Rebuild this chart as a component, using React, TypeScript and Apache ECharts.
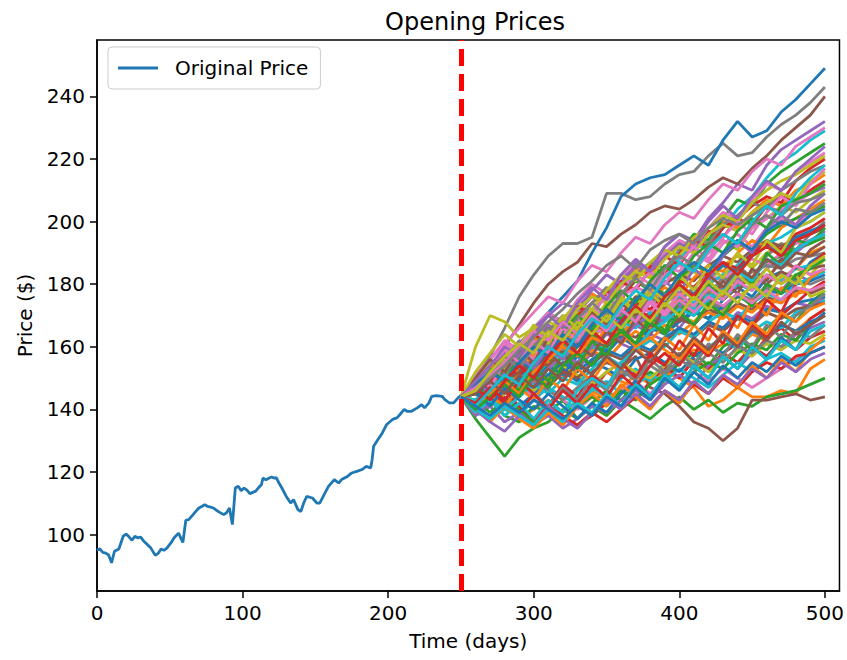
import React, { useEffect, useRef } from "react";
import * as echarts from "echarts";

const FONT = "DejaVu Sans";

const xTicks = [0, 100, 200, 300, 400, 500];
const yTicks = [100, 120, 140, 160, 180, 200, 220, 240];

const origDays = [0, 2, 4, 6, 8, 10, 12, 15, 18, 20, 22, 24, 26, 28, 30, 32, 34, 37, 40, 42, 44, 46, 48, 51, 53, 56, 58, 59, 61, 63, 66, 68, 70, 72, 74, 76, 78, 80, 82, 84, 87, 89, 91, 93, 95, 97, 99, 101, 103, 105, 107, 109, 111, 113, 114, 116, 118, 120, 122, 123, 125, 127, 130, 133, 135, 138, 140, 142, 144, 148, 151, 153, 156, 159, 163, 166, 168, 172, 175, 179, 182, 185, 188, 189, 190, 193, 196, 199, 203, 206, 208, 211, 213, 216, 220, 223, 225, 228, 230, 233, 237, 239, 242, 245, 248, 250];
const origPrices = [95.0, 95.5, 94.3, 94.1, 93.5, 91.0, 94.7, 95.4, 99.5, 100.2, 99.3, 98.2, 99.5, 99.0, 99.2, 98.0, 97.1, 95.7, 93.4, 94.0, 95.4, 95.0, 95.7, 97.5, 99.0, 100.5, 98.5, 97.5, 104.6, 104.8, 106.4, 107.5, 108.5, 109.0, 109.6, 109.0, 108.8, 108.5, 107.8, 107.2, 106.4, 107.0, 108.5, 103.2, 114.9, 115.5, 114.0, 114.9, 114.2, 113.1, 113.5, 113.9, 115.0, 116.0, 118.1, 117.5, 118.0, 118.4, 118.0, 118.3, 116.5, 114.9, 112.2, 110.1, 111.2, 108.0, 107.4, 110.1, 112.2, 111.7, 110.1, 110.1, 112.8, 115.4, 117.6, 116.5, 117.6, 118.6, 119.7, 120.3, 120.8, 121.8, 121.3, 124.0, 128.2, 130.4, 132.5, 135.2, 136.8, 137.3, 138.3, 140.0, 139.4, 139.4, 140.5, 141.5, 140.5, 142.1, 144.2, 144.4, 144.2, 143.1, 142.1, 142.1, 143.7, 144.5];

const simDays = [250, 260, 270, 280, 290, 300, 310, 320, 330, 340, 350, 360, 370, 380, 390, 400, 410, 420, 430, 440, 450, 460, 470, 480, 490, 500];

const sim00 = [144, 147, 143, 149, 146, 151, 148, 153, 150, 147, 152, 149, 147, 144, 149, 156, 159, 158, 161, 160, 164, 162, 167, 165, 169, 172];
const sim01 = [144, 137, 131, 125, 131, 134, 136, 140, 137, 142, 146, 143, 148, 152, 149, 155, 158, 154, 160, 163, 159, 166, 170, 168, 174, 178];
const sim02 = [144, 146, 141, 144, 139, 136, 140, 137, 135, 138, 142, 146, 143, 149, 153, 150, 156, 152, 158, 161, 157, 163, 166, 162, 169, 172];
const sim03 = [144, 148, 153, 158, 155, 162, 167, 164, 171, 176, 174, 181, 187, 185, 192, 196, 194, 201, 206, 212, 210, 218, 223, 226, 229, 232];
const sim04 = [144, 148, 153, 160, 167, 174, 180, 184, 187, 193, 192, 196, 199, 203, 205, 204, 207, 211, 214, 212, 217, 221, 226, 230, 234, 240];
const sim05 = [144, 150, 156, 161, 158, 165, 170, 167, 173, 177, 174, 179, 183, 180, 186, 184, 190, 187, 193, 196, 192, 198, 201, 199, 203, 205];
const sim06 = [144, 150, 157, 166, 176, 183, 189, 193, 193, 195, 209, 209, 207, 208, 212, 215, 216, 221, 225, 221, 222, 227, 231, 234, 238, 243];
const sim07 = [144, 160, 170, 168, 163, 166, 162, 167, 171, 168, 174, 170, 176, 179, 175, 181, 184, 180, 186, 189, 185, 190, 193, 191, 194, 195];
const sim08 = [144, 140, 143, 147, 151, 149, 155, 160, 157, 163, 168, 166, 172, 178, 183, 188, 193, 191, 198, 204, 208, 214, 219, 222, 226, 229];
const sim09 = [144, 147, 151, 156, 160, 166, 171, 176, 181, 190, 198, 208, 212, 214, 215, 218, 221, 218, 226, 232, 227, 229, 235, 239, 244, 249];
const sim10 = [144, 140, 144, 141, 137, 140, 143, 139, 142, 146, 143, 147, 151, 148, 152, 150, 147, 141, 143, 147, 144, 144, 146, 145, 153, 156];
const sim11 = [144, 140, 143, 138, 136, 141, 139, 143, 137, 141, 138, 143, 140, 137, 141, 144, 140, 143, 139, 142, 141, 144, 145, 146, 148, 150];
const sim12 = [144, 142, 146, 149, 145, 151, 148, 153, 150, 146, 152, 155, 151, 157, 154, 150, 156, 153, 158, 155, 160, 157, 162, 159, 163, 165];
const sim13 = [144, 139, 142, 146, 150, 147, 153, 157, 154, 160, 158, 163, 167, 164, 170, 166, 172, 175, 171, 177, 174, 180, 178, 183, 181, 185];
const sim14 = [144, 141, 143, 146, 149, 148, 151, 150, 154, 152, 155, 153, 157, 147, 145, 141, 136, 134, 130, 134, 143, 143, 144, 145, 143, 144];
const sim15 = [144, 146, 142, 145, 148, 144, 147, 143, 140, 144, 142, 146, 149, 145, 150, 147, 152, 149, 153, 150, 147, 150, 153, 156, 158, 160];
const sim16 = [144, 143, 148, 152, 149, 155, 159, 156, 162, 165, 161, 167, 171, 168, 174, 177, 173, 180, 183, 186, 182, 189, 193, 191, 196, 200];
const sim17 = [144, 147, 152, 150, 156, 161, 158, 164, 168, 165, 172, 176, 173, 179, 183, 180, 186, 190, 194, 191, 198, 201, 205, 203, 207, 210];
const sim18 = [144, 139, 137, 140, 138, 143, 141, 139, 143, 147, 144, 150, 153, 149, 155, 158, 155, 160, 163, 159, 165, 168, 166, 171, 173, 175];
const sim19 = [144, 146, 143, 148, 145, 150, 147, 153, 157, 154, 159, 163, 160, 166, 170, 168, 172, 169, 175, 179, 176, 182, 184, 181, 187, 190];
const sim20 = [144, 149, 154, 151, 157, 163, 160, 168, 172, 177, 174, 180, 185, 183, 189, 193, 190, 196, 200, 198, 203, 207, 205, 210, 212, 215];
const sim21 = [144, 146, 150, 155, 152, 158, 163, 160, 167, 171, 169, 176, 181, 178, 185, 190, 196, 194, 201, 207, 205, 212, 216, 219, 222, 225];
const sim22 = [144, 149, 147, 153, 158, 164, 161, 168, 173, 170, 177, 181, 178, 185, 189, 186, 193, 197, 195, 201, 205, 208, 206, 213, 217, 220];
const sim23 = [144, 138, 141, 136, 139, 135, 138, 134, 137, 141, 139, 143, 146, 143, 148, 151, 148, 154, 157, 153, 158, 161, 159, 164, 166, 168];
const sim24 = [144, 148, 145, 151, 156, 153, 159, 163, 168, 166, 172, 170, 176, 174, 180, 183, 181, 186, 189, 187, 191, 194, 192, 195, 196, 198];
const sim25 = [144, 151, 156, 162, 159, 166, 171, 168, 175, 180, 177, 183, 186, 184, 190, 194, 192, 198, 203, 201, 207, 212, 210, 216, 219, 222];
const sim26 = [144, 145, 149, 153, 158, 155, 160, 164, 161, 167, 164, 169, 166, 171, 168, 173, 170, 175, 172, 177, 175, 179, 177, 181, 180, 182];
const sim27 = [144, 147, 151, 155, 153, 158, 156, 160, 157, 162, 159, 164, 161, 167, 164, 170, 168, 173, 171, 176, 179, 177, 182, 185, 183, 188];
const sim28 = [144, 140, 137, 141, 139, 143, 147, 144, 142, 146, 149, 145, 148, 151, 149, 153, 150, 147, 151, 155, 152, 156, 158, 155, 160, 162];
const sim29 = [144, 142, 146, 143, 141, 145, 149, 152, 149, 155, 153, 150, 156, 158, 155, 152, 157, 160, 158, 162, 165, 163, 167, 165, 168, 170];
const sim30 = [144, 146, 150, 148, 154, 158, 155, 161, 165, 162, 168, 172, 169, 175, 179, 176, 182, 186, 184, 190, 194, 192, 198, 201, 204, 207];
const sim31 = [144, 147, 143, 149, 153, 150, 156, 154, 160, 164, 161, 166, 170, 167, 173, 171, 177, 175, 181, 184, 182, 187, 189, 191, 193, 195];
const sim32 = [144, 147, 152, 157, 154, 160, 166, 163, 170, 174, 178, 175, 182, 186, 183, 190, 194, 192, 198, 201, 199, 205, 208, 206, 210, 213];
const sim33 = [144, 141, 145, 149, 146, 152, 150, 155, 153, 158, 156, 161, 159, 164, 162, 166, 163, 168, 166, 171, 169, 173, 171, 174, 173, 176];
const sim34 = [144, 146, 150, 147, 152, 156, 159, 156, 162, 160, 165, 163, 168, 171, 169, 174, 172, 177, 175, 179, 182, 180, 184, 182, 185, 186];
const sim35 = [144, 148, 152, 149, 155, 159, 157, 163, 161, 166, 164, 170, 173, 171, 176, 174, 179, 183, 181, 186, 188, 186, 190, 193, 194, 196];
const sim36 = [144, 146, 151, 156, 162, 159, 165, 170, 167, 174, 179, 176, 183, 187, 185, 191, 195, 193, 199, 202, 206, 204, 210, 213, 216, 218];
const sim37 = [144, 145, 141, 145, 149, 146, 150, 154, 151, 148, 152, 155, 152, 150, 154, 158, 155, 152, 156, 159, 157, 161, 159, 162, 161, 164];
const sim38 = [144, 141, 145, 150, 147, 153, 151, 157, 155, 161, 159, 165, 168, 166, 172, 176, 174, 180, 183, 186, 190, 193, 195, 198, 200, 203];
const sim39 = [144, 147, 145, 149, 152, 149, 154, 151, 157, 161, 158, 163, 161, 166, 164, 168, 171, 169, 173, 176, 174, 178, 177, 180, 181, 183];
const sim40 = [144, 147, 151, 155, 152, 157, 154, 159, 163, 160, 166, 164, 169, 166, 172, 175, 173, 178, 176, 181, 184, 182, 187, 185, 190, 192];
const sim41 = [144, 143, 139, 143, 140, 136, 139, 137, 141, 144, 141, 146, 143, 148, 151, 147, 152, 155, 153, 158, 161, 159, 164, 162, 167, 170];
const sim42 = [144, 145, 149, 153, 151, 156, 161, 158, 164, 168, 165, 171, 174, 172, 177, 181, 179, 184, 187, 185, 190, 193, 191, 196, 198, 201];
const sim43 = [144, 148, 152, 157, 161, 166, 170, 174, 172, 178, 183, 180, 186, 184, 189, 193, 191, 196, 199, 197, 202, 205, 203, 207, 209, 211];
const sim44 = [144, 147, 144, 148, 152, 156, 154, 159, 157, 162, 160, 165, 163, 167, 165, 169, 167, 172, 170, 174, 172, 176, 174, 178, 177, 179];
const sim45 = [144, 150, 156, 161, 166, 171, 176, 174, 181, 186, 184, 190, 195, 193, 199, 203, 201, 207, 212, 210, 216, 220, 218, 224, 227, 230];
const sim46 = [144, 142, 146, 141, 145, 149, 146, 143, 147, 151, 148, 152, 150, 154, 151, 156, 153, 158, 155, 160, 158, 162, 160, 165, 163, 167];
const sim47 = [144, 150, 155, 153, 159, 164, 168, 166, 172, 176, 174, 180, 184, 182, 188, 192, 190, 196, 199, 197, 203, 206, 209, 207, 213, 216];
const sim48 = [144, 143, 147, 151, 149, 154, 158, 156, 161, 159, 164, 168, 166, 171, 169, 174, 172, 177, 175, 180, 178, 183, 181, 185, 186, 188];
const sim49 = [144, 148, 146, 151, 155, 153, 158, 162, 160, 165, 169, 167, 172, 176, 174, 179, 177, 182, 186, 184, 189, 192, 190, 195, 197, 199];
const sim50 = [144, 147, 143, 147, 151, 148, 153, 157, 154, 159, 156, 161, 165, 162, 167, 164, 168, 171, 169, 173, 171, 175, 174, 177, 178, 180];
const sim51 = [144, 149, 153, 151, 156, 160, 158, 163, 167, 165, 171, 169, 175, 179, 177, 182, 186, 184, 189, 193, 191, 196, 199, 201, 203, 205];
const sim52 = [144, 146, 142, 146, 141, 137, 141, 138, 135, 139, 136, 140, 144, 141, 146, 143, 148, 145, 150, 147, 152, 155, 153, 157, 158, 160];
const sim53 = [144, 138, 142, 146, 150, 148, 153, 157, 155, 160, 164, 162, 167, 170, 168, 173, 176, 174, 179, 182, 180, 185, 188, 190, 194, 197];
const sim54 = [144, 146, 144, 142, 146, 150, 147, 152, 150, 155, 158, 156, 160, 158, 162, 165, 163, 167, 165, 169, 167, 171, 169, 172, 173, 174];
const sim55 = [144, 147, 152, 150, 155, 160, 158, 164, 168, 172, 170, 176, 179, 177, 183, 186, 184, 190, 194, 192, 198, 201, 204, 206, 209, 212];
const sim56 = [144, 146, 150, 154, 158, 156, 161, 159, 164, 168, 166, 171, 169, 174, 177, 175, 179, 177, 182, 180, 184, 186, 185, 188, 189, 190];
const sim57 = [144, 147, 151, 156, 160, 165, 163, 169, 174, 172, 178, 183, 181, 187, 191, 189, 195, 198, 202, 200, 206, 210, 213, 215, 218, 221];
const sim58 = [144, 140, 143, 140, 144, 148, 145, 150, 148, 153, 157, 154, 159, 162, 160, 165, 163, 168, 171, 169, 174, 177, 175, 180, 182, 184];
const sim59 = [144, 145, 142, 146, 150, 147, 151, 155, 152, 156, 159, 157, 161, 159, 163, 166, 164, 168, 166, 170, 168, 172, 171, 174, 175, 176];
const sim60 = [144, 139, 145, 141, 147, 143, 150, 146, 153, 149, 156, 152, 160, 155, 163, 159, 167, 162, 171, 166, 175, 170, 179, 176, 182, 185];
const sim61 = [144, 148, 143, 150, 146, 154, 149, 158, 153, 162, 157, 166, 161, 170, 165, 175, 170, 180, 175, 185, 180, 190, 186, 194, 193, 198];
const sim62 = [144, 141, 146, 142, 139, 145, 141, 148, 144, 151, 147, 155, 150, 158, 154, 162, 157, 166, 161, 170, 166, 175, 171, 180, 186, 190];
const sim63 = [144, 149, 145, 152, 157, 153, 160, 156, 164, 169, 165, 172, 168, 176, 181, 177, 185, 181, 189, 194, 190, 198, 202, 199, 205, 209];
const sim64 = [144, 147, 152, 148, 155, 151, 158, 154, 161, 157, 165, 161, 169, 164, 173, 168, 177, 173, 181, 177, 185, 181, 188, 185, 191, 194];
const sim65 = [144, 151, 147, 155, 160, 156, 163, 168, 164, 171, 176, 172, 179, 184, 180, 187, 192, 188, 195, 200, 196, 203, 208, 205, 212, 217];
const sim66 = [144, 141, 147, 143, 149, 145, 141, 147, 143, 150, 146, 153, 149, 156, 152, 158, 154, 161, 157, 164, 160, 167, 163, 170, 173, 177];
const sim67 = [144, 149, 156, 152, 160, 166, 161, 169, 165, 172, 168, 176, 171, 179, 175, 183, 178, 186, 182, 190, 186, 194, 190, 198, 200, 203];
const sim68 = [144, 139, 143, 138, 142, 137, 143, 139, 146, 150, 147, 155, 159, 165, 168, 172, 170, 175, 178, 184, 181, 188, 186, 191, 194, 196];
const sim69 = [144, 146, 141, 147, 143, 140, 145, 141, 137, 142, 139, 145, 149, 144, 151, 147, 154, 150, 157, 153, 160, 156, 163, 159, 167, 171];
const sim70 = [144, 140, 136, 141, 137, 134, 139, 135, 141, 145, 141, 148, 144, 140, 146, 142, 149, 145, 151, 147, 154, 150, 156, 152, 159, 163];
const sim71 = [144, 147, 153, 149, 156, 162, 158, 165, 170, 166, 173, 178, 174, 181, 186, 182, 189, 193, 190, 197, 201, 198, 205, 207, 209, 212];
const sim72 = [144, 142, 147, 143, 149, 145, 140, 146, 142, 148, 144, 151, 147, 154, 158, 154, 161, 157, 164, 160, 167, 163, 170, 174, 178, 181];
const sim73 = [144, 140, 136, 133, 138, 135, 141, 137, 134, 139, 143, 140, 145, 141, 146, 143, 149, 145, 151, 148, 153, 150, 155, 152, 156, 158];
const sim74 = [144, 150, 156, 152, 159, 155, 163, 168, 164, 171, 167, 174, 170, 177, 173, 180, 176, 183, 179, 185, 182, 188, 185, 190, 189, 192];
const sim75 = [144, 148, 154, 159, 155, 162, 158, 166, 162, 169, 165, 172, 168, 175, 171, 177, 173, 179, 175, 181, 178, 183, 180, 186, 183, 185];
const sim76 = [144, 147, 151, 157, 153, 160, 166, 162, 169, 174, 170, 177, 182, 178, 185, 189, 186, 192, 196, 193, 199, 202, 199, 204, 203, 206];
const sim77 = [144, 152, 158, 164, 160, 167, 163, 170, 166, 172, 168, 175, 171, 177, 173, 179, 175, 181, 177, 183, 179, 185, 180, 183, 176, 178];
const sim78 = [144, 140, 137, 141, 138, 135, 140, 136, 142, 139, 145, 141, 148, 144, 151, 147, 154, 150, 157, 153, 160, 156, 162, 159, 165, 167];
const sim79 = [144, 148, 152, 149, 155, 160, 157, 164, 160, 167, 172, 168, 175, 180, 176, 183, 187, 184, 190, 194, 191, 197, 200, 198, 202, 204];
const sim80 = [144, 141, 145, 149, 145, 152, 156, 160, 157, 163, 161, 165, 160, 163, 159, 156, 162, 158, 165, 161, 168, 164, 171, 168, 172, 174];
const sim81 = [144, 140, 144, 148, 144, 151, 147, 154, 158, 154, 161, 165, 161, 168, 164, 171, 167, 174, 170, 177, 173, 180, 177, 183, 185, 188];
const sim82 = [144, 147, 143, 149, 154, 150, 157, 162, 158, 165, 161, 168, 173, 169, 176, 180, 176, 183, 187, 183, 189, 192, 189, 194, 196, 199];
const sim83 = [144, 149, 154, 160, 157, 164, 170, 166, 174, 179, 175, 183, 188, 184, 192, 196, 193, 200, 205, 201, 208, 213, 210, 216, 220, 224];
const sim84 = [144, 145, 149, 145, 151, 147, 153, 149, 155, 151, 157, 153, 159, 155, 161, 157, 163, 159, 164, 160, 166, 162, 168, 164, 167, 170];
const sim85 = [144, 147, 151, 155, 160, 165, 162, 168, 164, 170, 166, 172, 168, 174, 170, 175, 171, 176, 173, 177, 174, 178, 175, 179, 178, 180];
const sim86 = [144, 146, 150, 154, 159, 163, 168, 172, 177, 181, 186, 189, 185, 191, 194, 196, 193, 198, 201, 199, 202, 205, 202, 206, 207, 209];
const sim87 = [144, 146, 152, 157, 161, 158, 165, 162, 168, 164, 170, 166, 172, 168, 174, 170, 176, 172, 178, 174, 180, 176, 183, 180, 186, 189];
const sim88 = [144, 141, 146, 151, 148, 155, 160, 157, 164, 169, 166, 173, 178, 175, 182, 187, 184, 191, 196, 193, 200, 205, 202, 209, 214, 218];
const sim89 = [144, 141, 138, 142, 139, 143, 140, 137, 141, 138, 144, 141, 147, 143, 150, 146, 152, 148, 154, 150, 155, 152, 157, 154, 158, 160];

const simPaths = [
  sim00, sim01, sim02, sim03, sim04, sim05, sim06, sim07, sim08, sim09,
  sim10, sim11, sim12, sim13, sim14, sim15, sim16, sim17, sim18, sim19,
  sim20, sim21, sim22, sim23, sim24, sim25, sim26, sim27, sim28, sim29,
  sim30, sim31, sim32, sim33, sim34, sim35, sim36, sim37, sim38, sim39,
  sim40, sim41, sim42, sim43, sim44, sim45, sim46, sim47, sim48, sim49,
  sim50, sim51, sim52, sim53, sim54, sim55, sim56, sim57, sim58, sim59,
  sim60, sim61, sim62, sim63, sim64, sim65, sim66, sim67, sim68, sim69,
  sim70, sim71, sim72, sim73, sim74, sim75, sim76, sim77, sim78, sim79,
  sim80, sim81, sim82, sim83, sim84, sim85, sim86, sim87, sim88, sim89,
];

const splitDay = 250;

const palette = ["#1f77b4", "#ff7f0e", "#2ca02c", "#d62728", "#9467bd", "#8c564b", "#e377c2", "#7f7f7f", "#bcbd22", "#17becf"];

export default function App() {
  const ref = useRef<HTMLDivElement>(null);

  useEffect(() => {
    document.body.style.margin = "0";
    const chart = echarts.init(ref.current!, null, { renderer: "svg" });

    const lineW = 2.8;
    const series: any[] = [
      {
        name: "Original Price",
        type: "line",
        data: origDays.map((d, i) => [d, origPrices[i]]),
        symbol: "none",
        lineStyle: { width: lineW },
        z: 2,
        markLine: {
          silent: true,
          symbol: ["none", "none"],
          label: { show: false },
          lineStyle: { color: "#ff0000", type: [17, 8], width: 5 },
          data: [{ xAxis: splitDay }],
        },
      },
    ];
    simPaths.forEach((p, k) => {
      series.push({
        name: "sim" + k,
        type: "line",
        data: simDays.map((d, i) => [d, p[i]]),
        symbol: "none",
        lineStyle: { width: lineW },
        z: 3,
      });
    });

    const axisText = { fontFamily: FONT, fontSize: 20, color: "#000" };

    chart.setOption({
      animation: false,
      color: palette,
      textStyle: { fontFamily: FONT },
      title: {
        text: "Opening Prices",
        left: 470,
        top: 5,
        textAlign: "center",
        textStyle: { fontFamily: FONT, fontSize: 24, fontWeight: "normal", color: "#000" },
      },
      legend: {
        data: [{ name: "Original Price", icon: "rect" }],
        left: 108,
        top: 47,
        orient: "vertical",
        itemWidth: 40,
        itemHeight: 3,
        padding: [11, 12, 11, 10],
        backgroundColor: "#fff",
        borderColor: "#cccccc",
        borderWidth: 1,
        borderRadius: 4,
        textStyle: { fontFamily: FONT, fontSize: 20, color: "#000", padding: [0, 0, 0, 12] },
      },
      grid: {
        left: 97,
        right: 4,
        top: 40,
        bottom: 69,
        show: true,
        borderColor: "#000",
        borderWidth: 1.5,
        backgroundColor: "#fff",
      },
      xAxis: {
        type: "value",
        min: 0,
        max: 510,
        name: "Time (days)",
        nameLocation: "middle",
        nameGap: 40,
        nameTextStyle: axisText,
        axisLine: { show: true, lineStyle: { color: "#000", width: 1.5 } },
        axisTick: { show: true, length: 7, lineStyle: { color: "#000", width: 1.5 }, customValues: xTicks },
        axisLabel: { ...axisText, margin: 12, customValues: xTicks },
        splitLine: { show: false },
      },
      yAxis: {
        type: "value",
        min: 82,
        max: 258,
        name: "Price ($)",
        nameLocation: "middle",
        nameGap: 62,
        nameTextStyle: axisText,
        axisLine: { show: true, lineStyle: { color: "#000", width: 1.5 } },
        axisTick: { show: true, length: 7, lineStyle: { color: "#000", width: 1.5 }, customValues: yTicks },
        axisLabel: { ...axisText, margin: 12, customValues: yTicks },
        splitLine: { show: false },
      },
      series,
    });

    return () => chart.dispose();
  }, []);

  return <div ref={ref} style={{ width: 847, height: 660 }} />;
}
